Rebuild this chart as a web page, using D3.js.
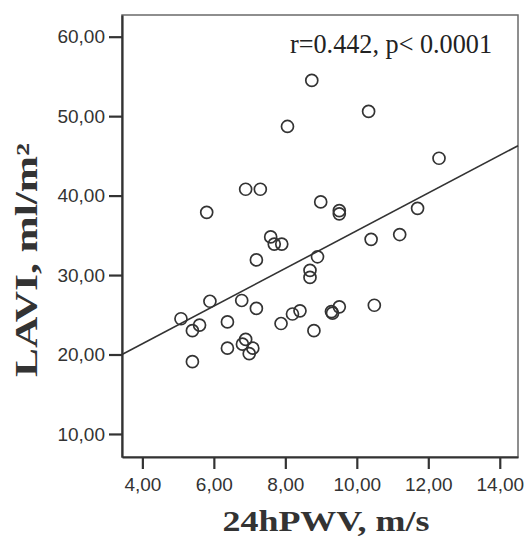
<!DOCTYPE html>
<html>
<head>
<meta charset="utf-8">
<script src="https://cdn.jsdelivr.net/npm/d3@7"></script>
<style>
  body { margin: 0; background: #fff; }
  svg { display: block; }
</style>
</head>
<body>
<div id="chart"></div>
<script>
// 24hPWV (m/s) vs LAVI (ml/m2)
const pwv = [12.30, 6.89, 7.30, 5.80, 8.99, 9.51, 9.51, 11.70, 7.59, 7.69, 7.90,
  7.19, 10.40, 11.20, 8.90, 8.69, 8.69, 5.08, 5.89, 6.78, 7.19, 5.40, 5.60, 6.38,
  6.38, 5.40, 6.89, 6.80, 7.09, 6.99, 7.88, 8.20, 8.41, 8.80, 9.29, 9.32, 9.51,
  10.49, 8.74, 8.06, 10.33];
const lavi = [44.7, 40.8, 40.8, 37.9, 39.2, 38.1, 37.7, 38.4, 34.8, 33.9, 33.9,
  31.9, 34.5, 35.1, 32.3, 30.6, 29.7, 24.5, 26.7, 26.8, 25.8, 23.0, 23.7, 24.1,
  20.8, 19.1, 21.9, 21.3, 20.8, 20.1, 23.9, 25.1, 25.5, 23.0, 25.4, 25.2, 26.0,
  26.2, 54.5, 48.7, 50.6];
const xTicks = [4, 6, 8, 10, 12, 14];
const yTicks = [10, 20, 30, 40, 50, 60];
const fitLine = [11.86, 2.372]; // intercept, slope
const annotation = "r=0.442, p< 0.0001";
const xTitle = "24hPWV, m/s";
const yTitle = "LAVI, ml/m²";

const width = 526, height = 536;
const margin = { left: 122, right: 8, top: 15, bottom: 79 };

const svg = d3.select("#chart").append("svg")
  .attr("width", width)
  .attr("height", height);

const x = d3.scaleLinear().domain([3.43, 14.51]).range([margin.left, width - margin.right]);
const y = d3.scaleLinear().domain([7.1, 62.73]).range([height - margin.bottom, margin.top]);

const locale = d3.formatLocale({ decimal: ",", thousands: ".", grouping: [3], currency: ["", ""] });
const fmt = locale.format(".2f");

// frame (top and right, lighter)
svg.append("rect")
  .attr("x", x.range()[0])
  .attr("y", y.range()[1])
  .attr("width", x.range()[1] - x.range()[0])
  .attr("height", y.range()[0] - y.range()[1])
  .attr("fill", "none")
  .attr("stroke", "#6a6a6a")
  .attr("stroke-width", 1.5);

const xAxis = svg.append("g")
  .attr("transform", `translate(0,${y.range()[0]})`)
  .call(d3.axisBottom(x).tickValues(xTicks).tickFormat(fmt).tickSize(12).tickPadding(9).tickSizeOuter(0));

const yAxis = svg.append("g")
  .attr("transform", `translate(${x.range()[0]},0)`)
  .call(d3.axisLeft(y).tickValues(yTicks).tickFormat(fmt).tickSize(13).tickPadding(4).tickSizeOuter(0));

[xAxis, yAxis].forEach(g => {
  g.select(".domain").attr("stroke", "#333").attr("stroke-width", 2.2);
  g.selectAll(".tick line").attr("stroke", "#333").attr("stroke-width", 2.2);
  g.selectAll(".tick text")
    .attr("fill", "#333")
    .style("font-family", "'Liberation Sans', Arial, sans-serif")
    .style("font-size", "19px");
});

// regression line
const xd = x.domain();
svg.append("line")
  .attr("x1", x(xd[0]))
  .attr("y1", y(fitLine[0] + fitLine[1] * xd[0]))
  .attr("x2", x(xd[1]))
  .attr("y2", y(fitLine[0] + fitLine[1] * xd[1]))
  .attr("stroke", "#333")
  .attr("stroke-width", 1.6);

// points
svg.append("g")
  .selectAll("circle")
  .data(pwv.map((v, i) => ({ x: v, y: lavi[i] })))
  .enter().append("circle")
  .attr("cx", d => x(d.x))
  .attr("cy", d => y(d.y))
  .attr("r", 6)
  .attr("fill", "none")
  .attr("stroke", "#333")
  .attr("stroke-width", 1.7);

// annotation
svg.append("text")
  .attr("x", 290)
  .attr("y", 53)
  .attr("textLength", 202)
  .attr("lengthAdjust", "spacingAndGlyphs")
  .style("font-family", "'Liberation Serif', 'Times New Roman', serif")
  .style("font-size", "28px")
  .attr("fill", "#222")
  .text(annotation);

// axis titles
svg.append("text")
  .attr("x", 326)
  .attr("y", 531)
  .attr("text-anchor", "middle")
  .attr("textLength", 207)
  .attr("lengthAdjust", "spacingAndGlyphs")
  .style("font-family", "'Liberation Serif', 'Times New Roman', serif")
  .style("font-size", "30px")
  .style("font-weight", "bold")
  .attr("fill", "#333")
  .text(xTitle);

svg.append("text")
  .attr("transform", "translate(37,260) rotate(-90)")
  .attr("text-anchor", "middle")
  .attr("textLength", 234)
  .attr("lengthAdjust", "spacingAndGlyphs")
  .style("font-family", "'Liberation Serif', 'Times New Roman', serif")
  .style("font-size", "31px")
  .style("font-weight", "bold")
  .attr("fill", "#333")
  .text(yTitle);
</script>
</body>
</html>
